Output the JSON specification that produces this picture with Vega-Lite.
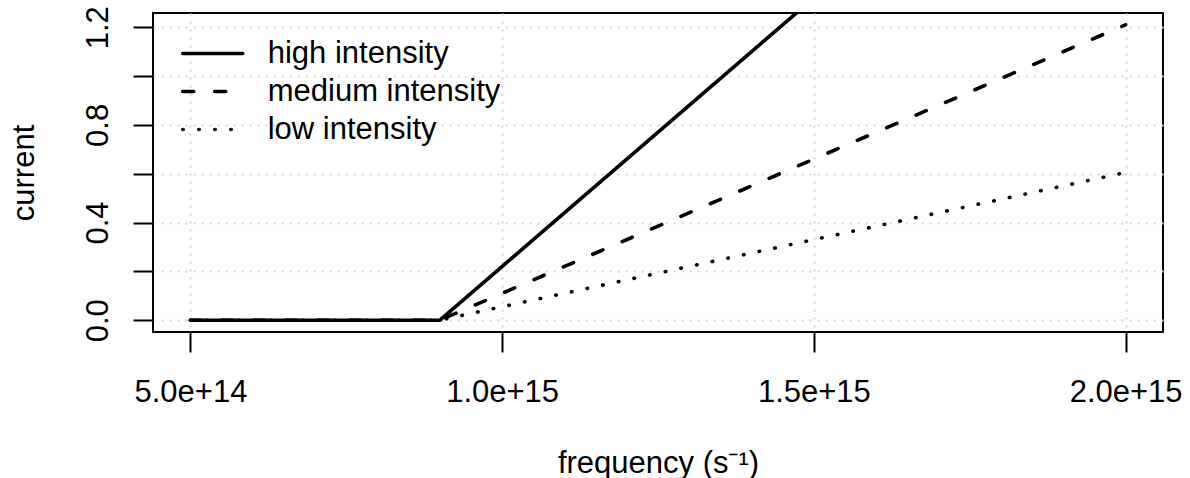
{
  "$schema": "https://vega.github.io/schema/vega-lite/v6.json",
  "width": 1010,
  "height": 319,
  "autosize": {"type": "none"},
  "padding": {"left": 153, "top": 13, "right": 27, "bottom": 146},
  "background": "white",
  "config": {
    "view": {"stroke": "black", "strokeWidth": 2},
    "font": "Liberation Sans"
  },
  "data": {
    "values": [
      {"frequency": 5e14, "current": 0, "intensity": "high intensity"},
      {"frequency": 9e14, "current": 0, "intensity": "high intensity"},
      {"frequency": 2e15, "current": 2.42, "intensity": "high intensity"},
      {"frequency": 5e14, "current": 0, "intensity": "medium intensity"},
      {"frequency": 9e14, "current": 0, "intensity": "medium intensity"},
      {"frequency": 2e15, "current": 1.21, "intensity": "medium intensity"},
      {"frequency": 5e14, "current": 0, "intensity": "low intensity"},
      {"frequency": 9e14, "current": 0, "intensity": "low intensity"},
      {"frequency": 2e15, "current": 0.605, "intensity": "low intensity"}
    ]
  },
  "mark": {"type": "line", "color": "black", "strokeWidth": 3.6, "strokeCap": "round", "clip": true},
  "encoding": {
    "x": {
      "field": "frequency",
      "type": "quantitative",
      "scale": {"domain": [4.4e14, 2.06e15], "nice": false, "zero": false},
      "axis": {
        "values": [5e14, 1e15, 1.5e15, 2e15],
        "format": ".1e",
        "labelFontSize": 31,
        "labelColor": "black",
        "labelBaseline": "alphabetic",
        "labelPadding": 49,
        "labelFlush": false,
        "labelOverlap": false,
        "tickSize": 20,
        "tickWidth": 2,
        "tickColor": "black",
        "domain": false,
        "grid": true,
        "gridColor": "#d3d3d3",
        "gridDash": [2, 6],
        "gridWidth": 2,
        "title": "frequency (s⁻¹)",
        "titleFontSize": 31,
        "titleFontWeight": "normal",
        "titleColor": "black",
        "titleBaseline": "alphabetic",
        "titleAlign": "center",
        "titleX": 505,
        "titleY": 140
      }
    },
    "y": {
      "field": "current",
      "type": "quantitative",
      "scale": {"domain": [-0.0484, 1.2584], "nice": false, "zero": false},
      "axis": {
        "values": [0, 0.2, 0.4, 0.6, 0.8, 1.0, 1.2],
        "labelExpr": "round(datum.value*10) % 4 == 0 ? format(datum.value, '.1f') : ''",
        "labelFontSize": 31,
        "labelColor": "black",
        "labelAngle": 270,
        "labelAlign": "center",
        "labelBaseline": "alphabetic",
        "labelPadding": 26,
        "labelFlush": false,
        "labelOverlap": false,
        "tickSize": 20,
        "tickWidth": 2,
        "tickColor": "black",
        "domain": false,
        "grid": true,
        "gridColor": "#d3d3d3",
        "gridDash": [2, 6],
        "gridWidth": 2,
        "title": "current",
        "titleFontSize": 31,
        "titleFontWeight": "normal",
        "titleColor": "black",
        "titleAngle": 270,
        "titleBaseline": "alphabetic",
        "titleAlign": "center",
        "titleX": -120,
        "titleY": 159.5
      }
    },
    "strokeDash": {
      "field": "intensity",
      "type": "nominal",
      "scale": {
        "domain": ["high intensity", "medium intensity", "low intensity"],
        "range": [[1, 0], [11, 21], [0.5, 15.5]]
      },
      "legend": {
        "orient": "none",
        "legendX": 27.7,
        "legendY": 21.5,
        "title": null,
        "padding": 0,
        "symbolType": "stroke",
        "symbolSize": 3600,
        "symbolStrokeWidth": 3.6,
        "symbolStrokeColor": "black",
        "labelFontSize": 31,
        "labelColor": "black",
        "labelOffset": 23,
        "clipHeight": 38,
        "rowPadding": 0,
        "labelLimit": 0,
        "encode": {"symbols": {"update": {"strokeCap": {"value": "round"}}}}
      }
    }
  }
}
